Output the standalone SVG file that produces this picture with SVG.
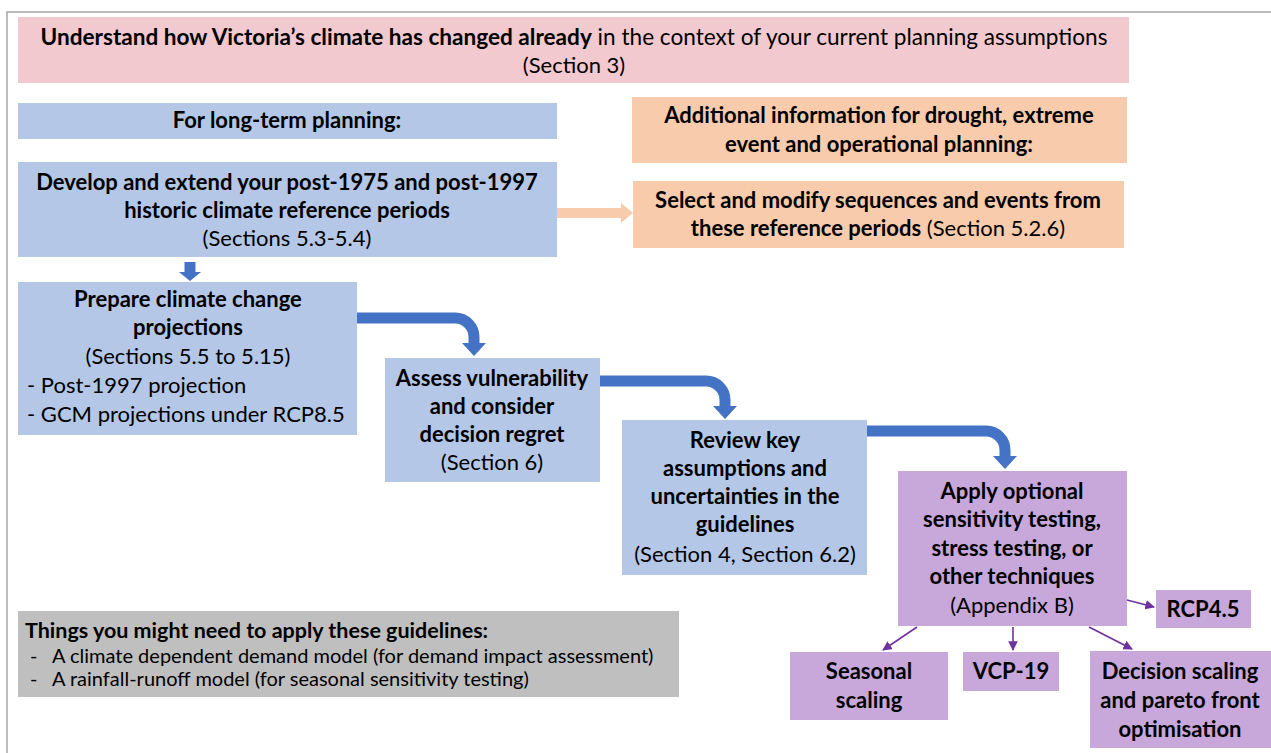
<svg xmlns="http://www.w3.org/2000/svg" width="1271" height="753" viewBox="0 0 1271 753">
<defs>
<style>
text{font-family:Lato,"Liberation Sans",sans-serif;fill:#000;}
.t{font-size:22px;text-anchor:middle;}
.l{font-size:22px;}
.g{font-size:20px;}
.b{font-weight:bold;}
.r{font-weight:normal;}
.blue{fill:#B4C7E7;}
.pink{fill:#F2C9CE;}
.orange{fill:#F8CBAD;}
.purple{fill:#C8A8DA;}
.gray{fill:#BFBFBF;}
.flow{fill:none;stroke:#4472C4;stroke-width:11;}
.head{fill:#4472C4;}
.pl{stroke:#7030A0;stroke-width:1.6;fill:none;marker-end:url(#pm);}
</style>
<marker id="pm" viewBox="0 0 10 10" refX="9" refY="5" markerWidth="6" markerHeight="6" orient="auto" markerUnits="strokeWidth">
<path d="M0,0 L10,5 L0,10 z" fill="#7030A0"/>
</marker>
</defs>
<rect width="1271" height="753" fill="#fff"/>
<path d="M7,753 V12 H1271" fill="none" stroke="#A6A6A6" stroke-width="1.5"/>

<g id="n-understand">
<rect class="pink" x="18" y="17" width="1111" height="66"/>
<text class="t" x="574" y="45" style="font-size:22.6px"><tspan class="b">Understand how Victoria’s climate has changed already</tspan> in the context of your current planning assumptions</text>
<text class="t" x="574" y="73">(Section 3)</text>
</g>

<g id="n-longterm">
<rect class="blue" x="18" y="103" width="539" height="36"/>
<text class="t b" x="287" y="128">For long-term planning:</text>
</g>

<g id="n-additional">
<rect class="orange" x="632" y="97" width="495" height="66"/>
<text class="t b" x="879" y="123">Additional information for drought, extreme</text>
<text class="t b" x="879" y="152">event and operational planning:</text>
</g>

<g id="n-develop">
<rect class="blue" x="18" y="162" width="539" height="95"/>
<text class="t b" x="287" y="190">Develop and extend your post-1975 and post-1997</text>
<text class="t b" x="287" y="218">historic climate reference periods</text>
<text class="t" x="287" y="246">(Sections 5.3-5.4)</text>
</g>

<g id="n-select">
<rect class="orange" x="633" y="181" width="491" height="67"/>
<text class="t b" x="878" y="208">Select and modify sequences and events from</text>
<text class="t" x="878" y="236"><tspan class="b">these reference periods</tspan> (Section 5.2.6)</text>
</g>

<g id="n-prepare">
<rect class="blue" x="18" y="282" width="339" height="153"/>
<text class="t b" x="188" y="307">Prepare climate change</text>
<text class="t b" x="188" y="335">projections</text>
<text class="t" x="188" y="364">(Sections 5.5 to 5.15)</text>
<text class="l" x="27" y="393">- Post-1997 projection</text>
<text class="l" x="27" y="422">- GCM projections under RCP8.5</text>
</g>

<g id="n-assess">
<rect class="blue" x="385" y="358" width="215" height="124"/>
<text class="t b" x="492" y="386">Assess vulnerability</text>
<text class="t b" x="492" y="414">and consider</text>
<text class="t b" x="492" y="442">decision regret</text>
<text class="t" x="492" y="470">(Section 6)</text>
</g>

<g id="n-review">
<rect class="blue" x="622" y="420" width="245" height="155"/>
<text class="t b" x="745" y="448">Review key</text>
<text class="t b" x="745" y="476">assumptions and</text>
<text class="t b" x="745" y="504">uncertainties in the</text>
<text class="t b" x="745" y="532">guidelines</text>
<text class="t" x="745" y="562">(Section 4, Section 6.2)</text>
</g>

<g id="n-apply">
<rect class="purple" x="898" y="471" width="229" height="155"/>
<text class="t b" x="1012" y="499">Apply optional</text>
<text class="t b" x="1012" y="527">sensitivity testing,</text>
<text class="t b" x="1012" y="556">stress testing, or</text>
<text class="t b" x="1012" y="584">other techniques</text>
<text class="t" x="1012" y="613">(Appendix B)</text>
</g>

<g id="n-rcp45">
<rect class="purple" x="1156" y="590" width="95" height="38"/>
<text class="t b" x="1203" y="617">RCP4.5</text>
</g>

<g id="n-seasonal">
<rect class="purple" x="790" y="652" width="158" height="68"/>
<text class="t b" x="869" y="679">Seasonal</text>
<text class="t b" x="869" y="708">scaling</text>
</g>

<g id="n-vcp">
<rect class="purple" x="963" y="652" width="96" height="39"/>
<text class="t b" x="1011" y="679">VCP-19</text>
</g>

<g id="n-decision">
<rect class="purple" x="1090" y="651" width="181" height="97"/>
<text class="t b" x="1180" y="679">Decision scaling</text>
<text class="t b" x="1180" y="708">and pareto front</text>
<text class="t b" x="1180" y="737">optimisation</text>
</g>

<g id="n-things">
<rect class="gray" x="18" y="611" width="661" height="86"/>
<text class="b" x="25" y="638" style="font-size:21.5px">Things you might need to apply these guidelines:</text>
<text class="g" x="30" y="663">-</text>
<text class="g" x="52" y="663">A climate dependent  demand model (for demand impact assessment)</text>
<text class="g" x="30" y="686">-</text>
<text class="g" x="52" y="686">A rainfall-runoff model (for seasonal sensitivity testing)</text>
</g>

<g id="connectors">
<path d="M557,213 H623" fill="none" stroke="#F8CBAD" stroke-width="10"/>
<polygon points="621,203 633,213 621,223" fill="#F8CBAD"/>
<path d="M190,262 V273" fill="none" stroke="#4472C4" stroke-width="11"/>
<polygon points="179,272 201,272 190,281" class="head"/>
<path class="flow" d="M357,318 H455 A19 19 0 0 1 474 337 V344"/>
<polygon class="head" points="462,343 486,343 474,356"/>
<path class="flow" d="M600,381 H706 A19 19 0 0 1 725 400 V407"/>
<polygon class="head" points="713,406 737,406 725,419"/>
<path class="flow" d="M867,431 H986 A19 19 0 0 1 1005 450 V457"/>
<polygon class="head" points="993,456 1017,456 1005,469"/>
<line class="pl" x1="1127" y1="600" x2="1154" y2="607"/>
<line class="pl" x1="917" y1="627" x2="883" y2="650"/>
<line class="pl" x1="1013" y1="627" x2="1013" y2="650"/>
<line class="pl" x1="1089" y1="627" x2="1132" y2="649"/>
</g>
</svg>
